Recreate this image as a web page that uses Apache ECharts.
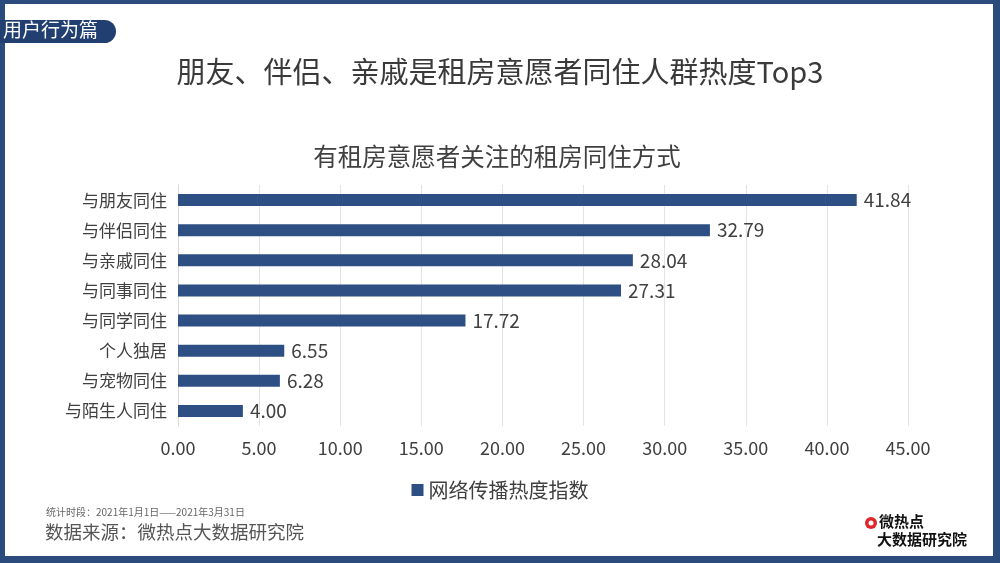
<!DOCTYPE html>
<html><head><meta charset="utf-8">
<script src="https://cdn.jsdelivr.net/npm/echarts@6/dist/echarts.min.js"></script>
<style>html,body{margin:0;padding:0;background:#fff}#c{width:1000px;height:563px}</style>
</head><body><div id="c"></div>
<script>
const categories = ['与朋友同住','与伴侣同住','与亲戚同住','与同事同住','与同学同住','个人独居','与宠物同住','与陌生人同住'];
const values = [41.84, 32.79, 28.04, 27.31, 17.72, 6.55, 6.28, 4.00];
const seriesName = '网络传播热度指数';
const xTicks = {min: 0, max: 45, interval: 5};

const FONT = '"Noto Sans CJK SC", "Noto Sans", sans-serif';
const BLUE = '#2d4f84';
const chart = echarts.init(document.getElementById('c'));
chart.setOption({
  backgroundColor: '#2b4b7d',
  animation: false,
  textStyle: {fontFamily: FONT},
  title: [
    {text: '朋友、伴侣、亲戚是租房意愿者同住人群热度Top3', left: 495, textAlign: 'center', top: 52,
     textStyle: {fontSize: 29, fontWeight: 'normal', color: '#3a3a3a', fontFamily: FONT, textShadowColor: '#3a3a3a', textShadowBlur: 0, textShadowOffsetX: 0.5}},
    {text: '有租房意愿者关注的租房同住方式', left: 492, textAlign: 'center', top: 139,
     textStyle: {fontSize: 24.5, fontWeight: 'normal', color: '#404040', fontFamily: FONT}}
  ],
  legend: {
    data: [seriesName], bottom: 58, left: 'center', itemWidth: 12, itemHeight: 12, itemGap: 8,
    icon: 'rect',
    textStyle: {fontSize: 20, color: '#404040', fontFamily: FONT}
  },
  grid: {left: 178, right: 92, top: 185, bottom: 137, containLabel: false},
  xAxis: {
    type: 'value', min: xTicks.min, max: xTicks.max, interval: xTicks.interval,
    axisLine: {show: false}, axisTick: {show: false},
    axisLabel: {formatter: v => v.toFixed(2), fontSize: 18, color: '#404040', margin: 13, fontFamily: FONT},
    splitLine: {show: true, lineStyle: {color: '#e3e3e3', width: 1}}
  },
  yAxis: {
    type: 'category', data: categories, inverse: true,
    axisLine: {show: true, lineStyle: {color: '#d9d9d9'}}, axisTick: {show: false},
    axisLabel: {fontSize: 17, color: '#404040', margin: 11, fontFamily: FONT}
  },
  series: [{
    name: seriesName, type: 'bar', data: values, barWidth: 12,
    itemStyle: {color: BLUE},
    label: {show: true, position: 'right', distance: 7, formatter: p => p.value.toFixed(2),
            fontSize: 19, color: '#404040', fontFamily: FONT}
  }],
  graphic: [
    {type: 'rect', z: -10, shape: {x: 5, y: 4, width: 988, height: 552}, style: {fill: '#fff'}},
    {type: 'rect', z: 10, shape: {x: 0, y: 20, width: 116, height: 23, r: [0, 12, 12, 0]}, style: {fill: '#213f70'}},
    {type: 'text', z: 11, x: 3, y: 20, style: {text: '用户行为篇', fill: '#fff', fontSize: 19, fontFamily: FONT}},
    {type: 'text', z: 11, x: 46, y: 507, style: {text: '统计时段：2021年1月1日——2021年3月31日', fill: '#666', fontSize: 10, fontFamily: FONT}},
    {type: 'text', z: 11, x: 45, y: 523, style: {text: '数据来源：微热点大数据研究院', fill: '#555', fontSize: 18.5, fontFamily: FONT}},
    {type: 'circle', z: 11, shape: {cx: 871, cy: 523, r: 6}, style: {fill: '#e0262b'}},
    {type: 'circle', z: 12, shape: {cx: 871, cy: 523, r: 2.5}, style: {fill: '#fff'}},
    {type: 'text', z: 11, x: 879, y: 514, style: {text: '微热点', fill: '#111', fontSize: 15, fontWeight: 'bold', fontFamily: FONT}},
    {type: 'text', z: 11, x: 877, y: 532, style: {text: '大数据研究院', fill: '#111', fontSize: 15, fontWeight: 'bold', fontFamily: FONT}}
  ]
});
</script></body></html>
